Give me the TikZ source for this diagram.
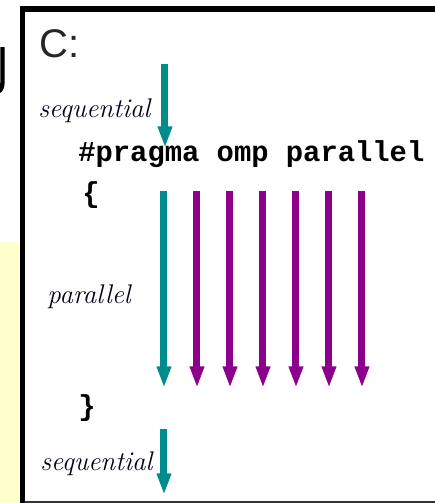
\documentclass[tikz,border=0pt]{standalone}
\usepackage{fontspec}
\newfontfamily\headfont{Liberation Sans}
\newfontfamily\codefont{Liberation Mono}
\usetikzlibrary{arrows.meta}

\definecolor{seqcol}{RGB}{0,140,140}
\definecolor{parcol}{RGB}{140,0,140}
\definecolor{notecol}{RGB}{255,255,204}

\tikzset{
  flow/.style={line width=4.2pt, -{Triangle[width=8pt,length=13pt]}},
  seqflow/.style={flow, seqcol},
  parflow/.style={flow, parcol},
  phase/.style={inner sep=0pt, text=black!90!blue, font=\fontsize{16.2}{18}\selectfont\itshape},
  code/.style={inner sep=0pt, font=\codefont\bfseries\fontsize{17.3}{19}\selectfont}
}

\begin{document}
\begin{tikzpicture}[x=0.6pt,y=-0.6pt]
    \useasboundingbox (0,0) rectangle (435,503);
    % slide background bits to the left
    \fill[notecol] (0,242) rectangle (19,503);
    \draw[line width=2.6pt] (2.5,47) -- (2.5,80) to[out=-90,in=30] (-2,92);
    % frame
    \fill[black] (20,6) rectangle (25,503);
    \fill[black] (20,6) rectangle (435,12);
    \fill[black!80] (25,501) rectangle (435,503);

    \node[inner sep=0pt, anchor=base west, font=\headfont\fontsize{24}{26}\selectfont, text=black!85] (lang) at (39,57) {C:};

    % sequential part before the region
    \node[phase, anchor=base west] (seqa) at (38,117) {sequential};
    \coordinate (seqa-s) at (165,64);
    \coordinate (seqa-e) at (165,148);
    \draw[seqflow] (seqa-s) -- (seqa-e);

    \node[code, anchor=base west] (pragma) at (78,161) {\#pragma omp parallel};
    \node[code] (open) at (91,195) {\{};

    % team of threads
    \node[phase, anchor=base west] (par) at (47,303) {parallel};
    \coordinate (master-s) at (164,191);
    \coordinate (master-e) at (164,388);
    \draw[seqflow] (master-s) -- (master-e);
    \foreach \i in {1,...,6}{
      \coordinate (thread\i-s) at (164+33*\i,191);
      \coordinate (thread\i-e) at (164+33*\i,388);
      \draw[parflow] (thread\i-s) -- (thread\i-e);
    }

    \node[code] (close) at (87,408) {\}};

    % sequential part after the region
    \node[phase, anchor=base west] (seqb) at (40,470) {sequential};
    \coordinate (seqb-s) at (164,429);
    \coordinate (seqb-e) at (164,495);
    \draw[seqflow] (seqb-s) -- (seqb-e);
  \end{tikzpicture}
\end{document}
